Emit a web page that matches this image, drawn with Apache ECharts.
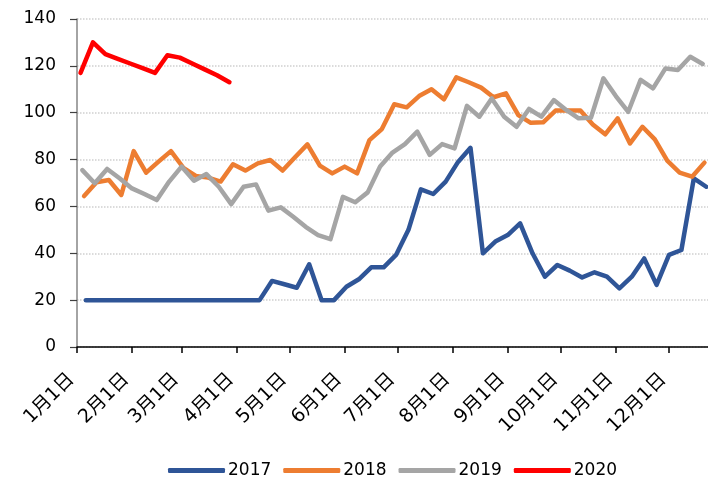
<!DOCTYPE html>
<html>
<head>
<meta charset="utf-8">
<script src="https://cdn.jsdelivr.net/npm/echarts@6/dist/echarts.min.js"></script>
<style>html,body{margin:0;padding:0;background:#fff}#c{width:708px;height:480px}</style>
</head>
<body>
<div id="c"></div>
<script>
// ---- data ----
const seriesNames = ['2017', '2018', '2019', '2020'];
const monthLengths = [31, 28, 31, 30, 31, 30, 31, 31, 30, 31, 30, 31];
const axisDays = 357; // Jan 1 .. Dec 23
const weekStep = 7;
const startDay2017 = 5, startDay2018 = 4, startDay2019 = 3, startDay2020 = 2;
const yTicks = [0, 20, 40, 60, 80, 100, 120, 140];

const v2017 = [20,20,20,20,20,20,20,20,20,20,20,20,20,20,20,28.2,26.8,25.3,35.3,20,20,25.7,28.9,34,34,39.3,50,67.3,65.3,70.6,79,85,40,45,47.8,52.8,40,30,35,32.6,29.7,31.9,30,25,30,37.8,26.5,39.3,41.4,72,68.4];
const v2018 = [64.4,70.3,71.3,64.9,83.6,74.4,79.1,83.6,76.5,73,72.3,70.6,78,75.3,78.4,79.8,75.3,81,86.5,77.4,74.1,77,74.1,88.3,93,103.6,102.3,107.1,110,105.7,115.1,113,110.7,106.6,108.3,99,95.7,95.9,100.9,100.9,100.9,95,90.8,97.6,86.9,94,88.6,79.5,74.4,72.7,78.7];
const v2019 = [75.5,69.9,76,72,67.7,65.3,62.7,70.6,77,71,73.8,68.4,61,68.4,69.4,58.2,59.6,55.6,51.3,47.8,46,64.1,61.8,66,77,83,86.6,91.9,82,86.6,84.8,102.9,98.3,106.1,98.3,94,101.6,98.3,105.4,101.2,97.6,97.9,114.7,107.1,100.4,114,110.4,118.9,118.2,123.9,120.8];
const v2020 = [117,130,125,123,121,119,117,124.5,123.5,121,118.5,116,113];

const colors = ['#2F5597', '#ED7D31', '#A5A5A5', '#FF0000'];

// ---- build ----
const categories = [];
const monthStart = {};
for (let m = 0; m < 12; m++) {
  for (let d = 1; d <= monthLengths[m]; d++) {
    if (categories.length >= axisDays) break;
    if (d === 1) monthStart[categories.length] = true;
    categories.push((m + 1) + '月' + d + '日');
  }
}
function toPairs(vals, start) {
  return vals.map((v, i) => [start + i * weekStep, v]);
}
const seriesData = [
  toPairs(v2017, startDay2017),
  toPairs(v2018, startDay2018),
  toPairs(v2019, startDay2019),
  toPairs(v2020, startDay2020)
];

const font = 'DejaVu Sans, Noto Sans CJK SC, sans-serif';
const chart = echarts.init(document.getElementById('c'), null, {renderer: 'canvas'});
chart.setOption({
  animation: false,
  backgroundColor: '#fff',
  color: colors,
  grid: {left: 77, right: 0, top: 19, bottom: 133, containLabel: false},
  legend: {
    data: seriesNames.map(n => ({name: n, icon: 'roundRect'})),
    left: 163, top: 457,
    itemWidth: 57, itemHeight: 5, itemGap: 12,
    textStyle: {fontFamily: font, fontSize: 17, color: '#000', padding: [0, 0, 0, -2]}
  },
  xAxis: {
    type: 'category',
    data: categories,
    boundaryGap: false,
    axisLine: {lineStyle: {color: '#000', width: 1.5}},
    axisTick: {show: true, length: 6, lineStyle: {color: '#000', width: 1.5},
      interval: (i) => !!monthStart[i]},
    axisLabel: {
      interval: (i) => !!monthStart[i],
      rotate: 45, margin: 24, padding: [0, 8, 0, 0],
      fontFamily: font, fontSize: 19, color: '#000'
    },
    splitLine: {show: false}
  },
  yAxis: {
    type: 'value',
    min: yTicks[0], max: yTicks[yTicks.length - 1], interval: 20,
    axisLine: {show: true, lineStyle: {color: '#868686', width: 1.5}},
    axisTick: {show: true, length: 7, lineStyle: {color: '#404040', width: 1.2}},
    axisLabel: {margin: 21, fontFamily: font, fontSize: 17, color: '#000'},
    splitLine: {show: true, lineStyle: {type: 'dotted', color: '#cfcfcf', width: 1.5}}
  },
  series: seriesNames.map((n, i) => ({
    name: n,
    type: 'line',
    data: seriesData[i],
    showSymbol: false,
    symbol: 'none',
    lineStyle: {width: 4.5, color: colors[i], cap: 'round', join: 'round'},
    itemStyle: {color: colors[i]}
  }))
});
</script>
</body>
</html>
